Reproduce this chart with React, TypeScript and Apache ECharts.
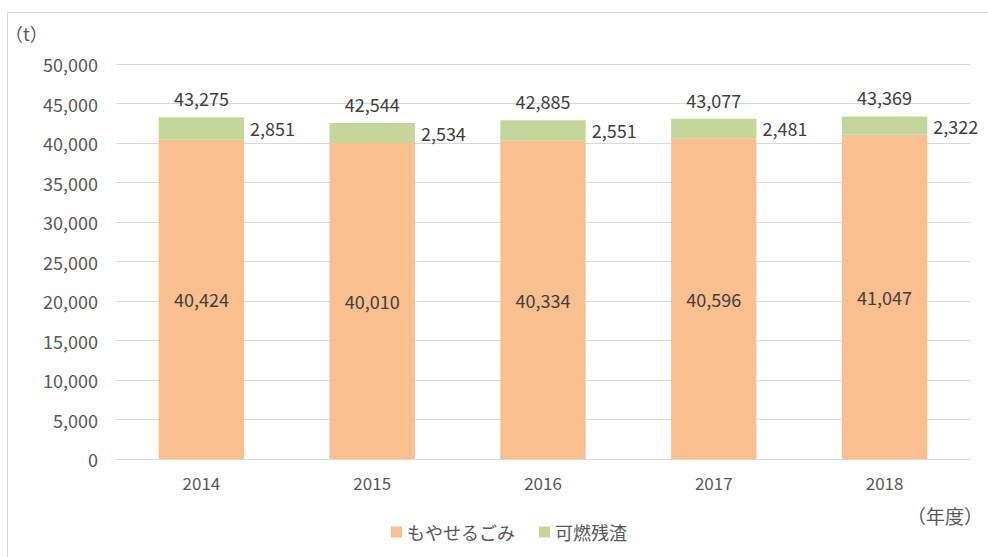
import React, { useEffect, useRef } from "react";
import * as echarts from "echarts";

const categories = ["2014", "2015", "2016", "2017", "2018"];
const burnable = [40424, 40010, 40334, 40596, 41047];
const residue = [2851, 2534, 2551, 2481, 2322];
const totals = [43275, 42544, 42885, 43077, 43369];

const FONT = "'Noto Sans CJK JP', 'Noto Sans', sans-serif";
const TEXT = "#595959";
const LABEL = "#404040";

export default function App() {
  const ref = useRef<HTMLDivElement>(null);
  useEffect(() => {
    if (!ref.current) return;
    const chart = echarts.init(ref.current, undefined, { renderer: "svg" });
    const fmt = (v: number) => v.toLocaleString("en-US");
    chart.setOption({
      animation: false,
      backgroundColor: "#ffffff",
      textStyle: { fontFamily: FONT },
      graphic: [
        {
          type: "rect",
          shape: { x: 7.5, y: 12.5, width: 1000, height: 600 },
          style: { fill: "none", stroke: "#d9d9d9", lineWidth: 1 },
          silent: true,
        },
        {
          type: "text",
          x: 5,
          y: 33,
          style: { text: "（t）", font: `18px ${FONT}`, fill: TEXT, textVerticalAlign: "middle" },
        },
        {
          type: "text",
          x: 983,
          y: 515,
          style: { text: "（年度）", font: `19px ${FONT}`, fill: TEXT, textAlign: "right", textVerticalAlign: "middle" },
        },
      ],
      grid: { left: 116, right: 18, top: 64, bottom: 98, containLabel: false },
      legend: {
        bottom: 11,
        left: 386,
        itemWidth: 11,
        itemHeight: 11,
        itemGap: 24,
        icon: "rect",
        textStyle: { color: TEXT, fontSize: 18, fontFamily: FONT },
        data: ["もやせるごみ", "可燃残渣"],
      },
      xAxis: {
        type: "category",
        data: categories,
        axisLine: { lineStyle: { color: "#d9d9d9" } },
        axisTick: { show: false },
        axisLabel: { color: TEXT, fontSize: 17, margin: 15, fontFamily: FONT },
      },
      yAxis: {
        type: "value",
        min: 0,
        max: 50000,
        interval: 5000,
        axisLine: { show: false },
        axisTick: { show: false },
        splitLine: { lineStyle: { color: "#d9d9d9" } },
        axisLabel: { color: TEXT, fontSize: 18, margin: 18, fontFamily: FONT, formatter: (v: number) => fmt(v) },
      },
      series: [
        {
          name: "もやせるごみ",
          type: "bar",
          stack: "a",
          data: burnable,
          barWidth: "50%",
          itemStyle: { color: "#F9BF8F" },
          label: { show: true, position: "inside", color: LABEL, fontSize: 18, fontFamily: FONT, formatter: (p: any) => fmt(p.value) },
        },
        {
          name: "可燃残渣",
          type: "bar",
          stack: "a",
          data: residue,
          barWidth: "50%",
          itemStyle: { color: "#C4D79B" },
          label: { show: true, position: "right", distance: 6, color: LABEL, fontSize: 18, fontFamily: FONT, formatter: (p: any) => fmt(p.value) },
        },
        {
          name: "合計",
          type: "scatter",
          data: totals,
          symbolSize: 0,
          silent: true,
          itemStyle: { opacity: 1, color: "transparent" },
          label: { show: true, position: "top", distance: 10, color: LABEL, fontSize: 18, fontFamily: FONT, formatter: (p: any) => fmt(p.value) },
        },
      ],
    });
    return () => chart.dispose();
  }, []);
  return <div ref={ref} style={{ position: "absolute", left: 0, top: 0, width: 988, height: 557 }} />;
}
